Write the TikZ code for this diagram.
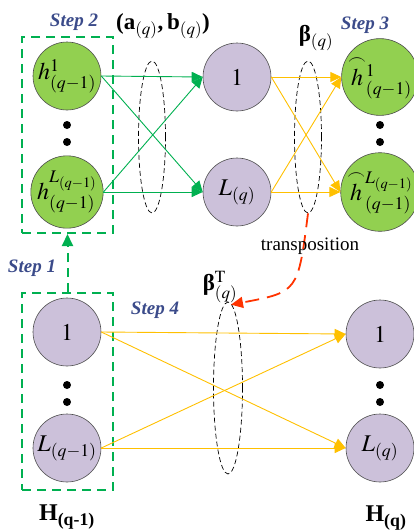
\documentclass[tikz,border=0pt]{standalone}
\usepackage{amsmath}
\usepackage{mathptmx}
\usepackage{fontspec}
\setmainfont{Liberation Serif}
\usetikzlibrary{shapes.geometric,arrows.meta}
\definecolor{gfill}{HTML}{92D050}
\definecolor{pfill}{HTML}{CCC1DA}
\definecolor{gline}{HTML}{00B050}
\definecolor{yline}{HTML}{FFC000}
\definecolor{rline}{HTML}{FF3300}
\definecolor{stepc}{HTML}{3B4B8A}
\begin{document}
\begin{tikzpicture}[x=1pt,y=-1pt,
  circ/.style={circle,draw=black!70,line width=0.6pt,minimum size=68pt,inner sep=0pt,font=\fontsize{24}{28}\selectfont},
  gcirc/.style={circ,fill=gfill},
  pcirc/.style={circ,fill=pfill},
  garr/.style={draw=gline,line width=0.9pt,-{Triangle[length=11pt,width=10pt]}},
  yarr/.style={draw=yline,line width=0.9pt,-{Triangle[length=11pt,width=10pt]}},
  ell/.style={ellipse,draw=black,dash pattern=on 5pt off 3pt,line width=0.7pt,inner sep=0pt},
  stepl/.style={font=\fontsize{19}{22}\selectfont\bfseries\itshape,text=stepc},
  gbox/.style={rectangle,draw=gline,line width=2pt,dash pattern=on 9pt off 6pt,inner sep=0pt},
  dotn/.style={circle,fill=black,minimum size=8pt,inner sep=0pt},
  lbl/.style={font=\fontsize{23}{27}\selectfont,inner sep=0pt}
]
\useasboundingbox (0,0) rectangle (414,531);

% boxes
\node[gbox,minimum width=91pt,minimum height=196pt] (topbox) at (67.5,135) {};
\node[gbox,minimum width=91pt,minimum height=197pt] (botbox) at (67.5,391.5) {};
\draw[draw=gline,line width=2pt,dash pattern=on 9pt off 6pt,-{Triangle[length=12pt,width=11pt]}] (botbox.north) -- (topbox.south);

% ellipses
\node[ell,minimum width=27pt,minimum height=152pt] (e1) at (152,137) {};
\node[ell,minimum width=27pt,minimum height=152pt] (e2) at (308,137) {};
\node[ell,minimum width=29pt,minimum height=172pt] (e3) at (228,388) {};

% top row
\node[gcirc] (h1) at (67,76) {$h^{1}_{(q-1)}$};
\node[gcirc] (hL) at (67,192) {$h^{L_{(q-1)}}_{(q-1)}$};
\node[pcirc] (m1) at (237,77) {$1$};
\node[pcirc] (mL) at (237,192) {$L_{(q)}$};
\node[gcirc] (r1) at (380,77) {$\overset{\frown}{h}{}^{1}_{(q-1)}$};
\node[gcirc] (rL) at (380,192) {$\overset{\frown}{h}{}^{L_{(q-1)}}_{(q-1)}$};

% bottom row
\node[pcirc] (b1) at (67,332) {$1$};
\node[pcirc] (bL) at (67,448) {$L_{(q-1)}$};
\node[pcirc] (c1) at (380,334) {$1$};
\node[pcirc] (cL) at (380,448) {$L_{(q)}$};

% dots
\foreach \x/\y [count=\i] in {67/125,67/142,380/125,380/142,67/385,67/402,380/385,380/402}
  \node[dotn] (d\i) at (\x,\y) {};

% green connectors
\draw[garr] (h1.east) -- (m1.west);
\draw[garr] (h1.east) -- (mL.west);
\draw[garr] (hL.east) -- (m1.west);
\draw[garr] (hL.east) -- (mL.west);

% yellow connectors
\draw[yarr] (m1.east) -- (r1.west);
\draw[yarr] (m1.east) -- (rL.west);
\draw[yarr] (mL.east) -- (r1.west);
\draw[yarr] (mL.east) -- (rL.west);
\draw[yarr] (b1.east) -- (c1.west);
\draw[yarr] (b1.east) -- (cL.west);
\draw[yarr] (bL.east) -- (c1.west);
\draw[yarr] (bL.east) -- (cL.west);

% red transposition arrow
\draw[draw=rline,line width=1.8pt,dash pattern=on 14pt off 8pt,-{Triangle[length=12pt,width=11pt]}]
  (e2.south) .. controls (298,292) .. ([xshift=3pt,yshift=-3pt]e3.north);

% labels
\node[stepl] (s2) at (74,22) {Step 2};
\node[stepl] (s3) at (365,25) {Step 3};
\node[stepl] (s1) at (32,268) {Step 1};
\node[stepl] (s4) at (155,310) {Step 4};
\node[lbl] (ab) at (163,26) {\textbf{(a}$_{(q)}$\textbf{,\,b}$_{(q)}$\textbf{)}};
\node[lbl] (beta) at (316,38) {{\bfseries β}$_{(q)}$};
\node[lbl] (betaT) at (220,287) {{\bfseries β}$^{\mathrm{T}}_{(q)}$};
\node[font=\fontsize{19}{22}\selectfont,inner sep=0pt] (tr) at (310,246) {transposition};
\node[font=\fontsize{24}{28}\selectfont,inner sep=0pt] (Hq1) at (67,517) {\textbf{H}$_{\textbf{(q-1)}}$};
\node[font=\fontsize{24}{28}\selectfont,inner sep=0pt] (Hq) at (386,518) {\textbf{H}$_{\textbf{(q)}}$};
\end{tikzpicture}
\end{document}
